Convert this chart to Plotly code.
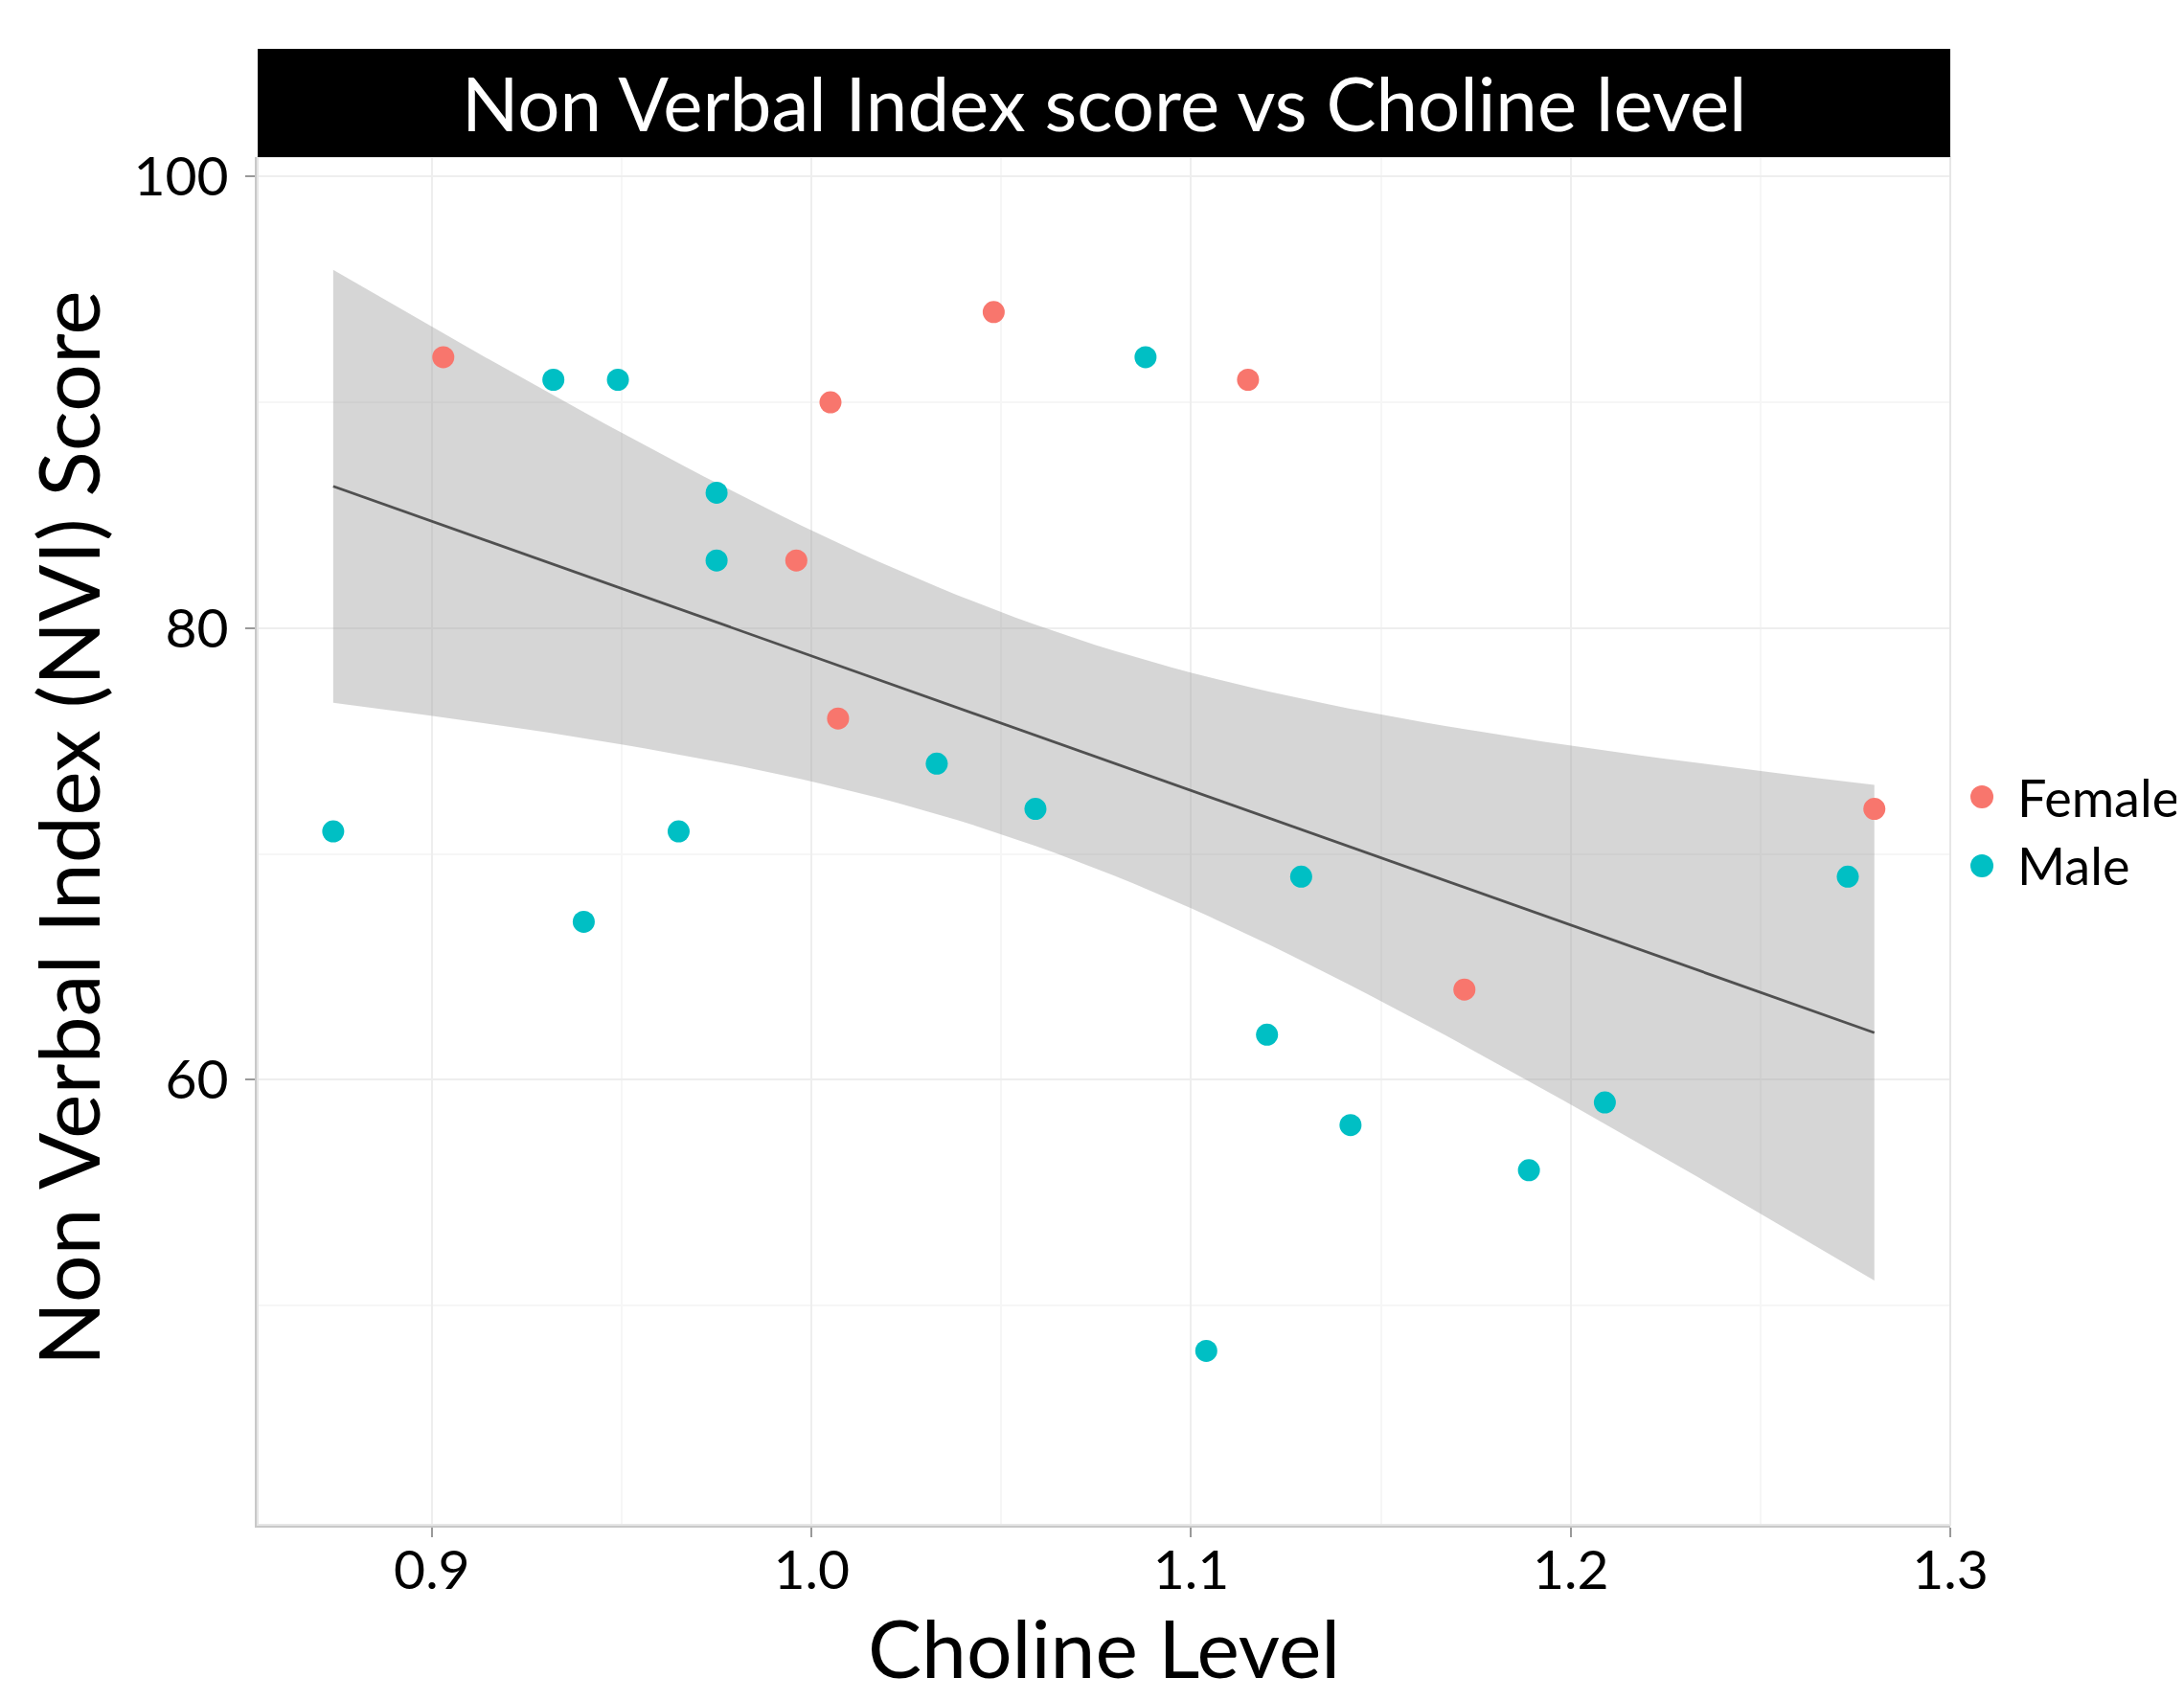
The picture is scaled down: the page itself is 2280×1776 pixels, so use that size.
import numpy as np
import plotly.graph_objects as go

# ---- data ----
female_x = [0.903, 1.005, 1.048, 0.996, 1.007, 1.115, 1.172, 1.280]
female_y = [92, 90, 94, 83, 76, 91, 64, 72]
male_x = [0.874, 0.932, 0.949, 0.975, 0.975, 0.965, 0.940, 1.033, 1.059,
          1.088, 1.129, 1.120, 1.142, 1.189, 1.209, 1.104, 1.273]
male_y = [71, 91, 91, 86, 83, 71, 67, 74, 72, 92, 69, 62, 58, 56, 59, 48, 69]

x_ticks = [0.9, 1.0, 1.1, 1.2, 1.3]
x_tick_labels = ["0.9", "1.0", "1.1", "1.2", "1.3"]
y_ticks = [60, 80, 100]
y_tick_labels = ["60", "80", "100"]

groups = ["Female", "Male"]
group_colors = ["#F8766D", "#00BFC4"]

title_text = "Non Verbal Index score vs Choline level"
x_title = "Choline Level"
y_title = "Non Verbal Index (NVI) Score"

# ---- linear fit with 95% confidence band (geom_smooth(method='lm')) ----
xa = np.array(female_x + male_x)
ya = np.array(female_y + male_y, dtype=float)
n = len(xa)
b1, b0 = np.polyfit(xa, ya, 1)
resid = ya - (b0 + b1 * xa)
s = np.sqrt(np.sum(resid ** 2) / (n - 2))
xbar = xa.mean()
sxx = np.sum((xa - xbar) ** 2)
t975 = 2.0687  # t quantile, df = 23
xs = np.linspace(xa.min(), xa.max(), 80)
yhat = b0 + b1 * xs
se = s * np.sqrt(1.0 / n + (xs - xbar) ** 2 / sxx)
upper = yhat + t975 * se
lower = yhat - t975 * se

FONT = "Lato"
fig = go.Figure()

fig.add_trace(go.Scatter(
    x=np.concatenate([xs, xs[::-1]]), y=np.concatenate([upper, lower[::-1]]),
    fill="toself", fillcolor="rgba(153,153,153,0.4)", line=dict(width=0),
    mode="lines", hoverinfo="skip", showlegend=False))
fig.add_trace(go.Scatter(
    x=xs, y=yhat, mode="lines", line=dict(color="#505050", width=2.8),
    hoverinfo="skip", showlegend=False))
fig.add_trace(go.Scatter(
    x=female_x, y=female_y, mode="markers", name=groups[0],
    marker=dict(color=group_colors[0], size=23), showlegend=False))
fig.add_trace(go.Scatter(
    x=male_x, y=male_y, mode="markers", name=groups[1],
    marker=dict(color=group_colors[1], size=23), showlegend=False))

grid_major = "#EEEEEE"
grid_minor = "#F6F6F6"

shapes = [
    dict(type="rect", xref="paper", yref="paper", x0=0, x1=1, y0=0, y1=1,
         line=dict(color="#E6E6E6", width=2), fillcolor="rgba(0,0,0,0)",
         layer="above"),
    dict(type="rect", xref="paper", yref="paper", x0=0, x1=1,
         y0=1, y1=1 + 113 / 1428, line=dict(width=0), fillcolor="black"),
]
annotations = [
    dict(text=title_text, xref="paper", yref="paper", x=0.5,
         y=1 + 56.5 / 1428, xanchor="center", yanchor="middle",
         showarrow=False, font=dict(size=78, family=FONT, color="white")),
    dict(text=x_title, xref="paper", yref="paper", x=0.5, y=-0.089,
         xanchor="center", yanchor="middle", showarrow=False,
         font=dict(size=84, family=FONT, color="black")),
    dict(text=y_title, xref="paper", yref="paper", x=-0.1126, y=0.509,
         xanchor="center", yanchor="middle", textangle=-90,
         showarrow=False, font=dict(size=88, family=FONT, color="black")),
]

# legend drawn as shapes + text (large keys like the reference)
leg_y = [0.5322, 0.4818]
for name, col, ly in zip(groups, group_colors, leg_y):
    shapes.append(dict(type="circle", xref="paper", yref="paper",
                       xsizemode="pixel", ysizemode="pixel",
                       xanchor=1.0187, yanchor=ly, x0=-12, x1=12, y0=-12, y1=12,
                       fillcolor=col, line=dict(width=0)))
    annotations.append(dict(text=name, xref="paper", yref="paper", x=1.0385,
                            y=ly, xanchor="left", yanchor="middle",
                            showarrow=False,
                            font=dict(size=54, family=FONT, color="black")))

fig.update_layout(
    width=2280, height=1776,
    margin=dict(l=261, r=252, t=156, b=192),
    paper_bgcolor="white", plot_bgcolor="white",
    font=dict(family=FONT, color="black"),
    showlegend=False,
    xaxis=dict(range=[0.8541, 1.3], tickvals=x_ticks, ticktext=x_tick_labels,
               showgrid=True, gridcolor=grid_major, gridwidth=2,
               minor=dict(dtick=0.05, tick0=0.85, showgrid=True,
                          gridcolor=grid_minor, gridwidth=2),
               ticks="outside", ticklen=10, tickwidth=2, tickcolor="#999999",
               showline=True, linecolor="#C8C8C8", linewidth=3,
               tickfont=dict(size=57, family=FONT, color="black"),
               ticklabelstandoff=-14,
               zeroline=False),
    yaxis=dict(range=[40.3, 100.86], tickvals=y_ticks, ticktext=y_tick_labels,
               showgrid=True, gridcolor=grid_major, gridwidth=2,
               minor=dict(dtick=10, tick0=0, showgrid=True,
                          gridcolor=grid_minor, gridwidth=2),
               ticks="outside", ticklen=10, tickwidth=2, tickcolor="#999999",
               showline=True, linecolor="#C8C8C8", linewidth=3,
               tickfont=dict(size=57, family=FONT, color="black"),
               ticklabelstandoff=6,
               zeroline=False),
    shapes=shapes,
    annotations=annotations,
)

fig.write_html("out.html")
